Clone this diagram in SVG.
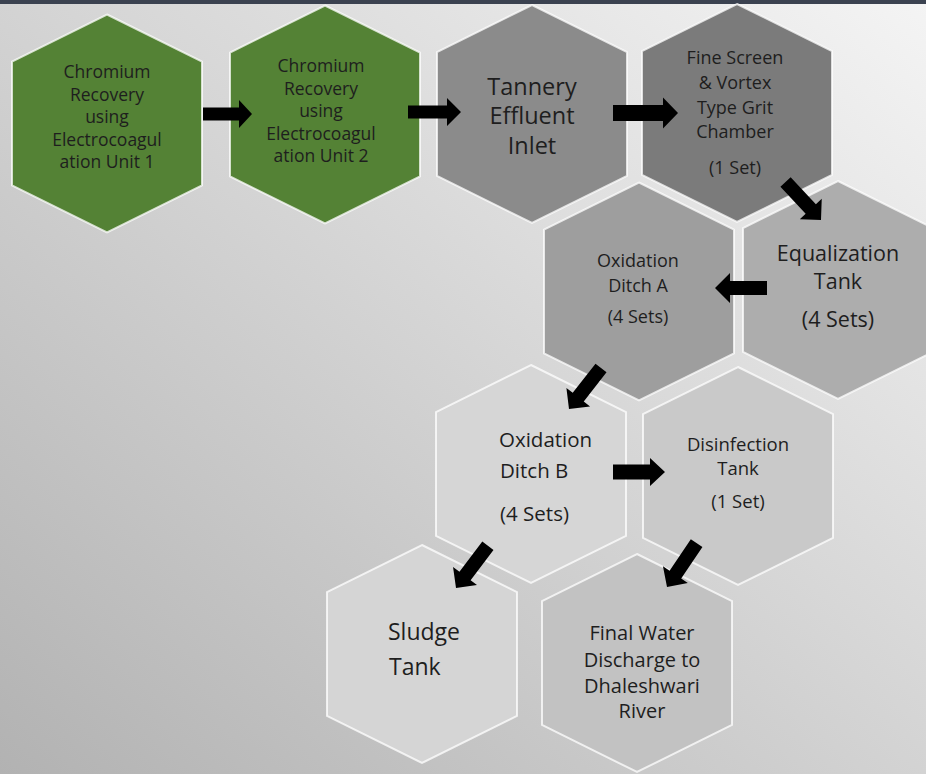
<svg xmlns="http://www.w3.org/2000/svg" xmlns:xlink="http://www.w3.org/1999/xlink" width="926" height="774" viewBox="0 0 926 774">
<style>
.hex{stroke:#ffffff;stroke-opacity:0.75;stroke-width:2}
.t{font-family:"Open Sans","Liberation Sans",sans-serif;fill:#1e1e1e;text-anchor:middle}
.tl{text-anchor:start}
.arrow{fill:#000000}
</style>
<defs>
<linearGradient id="bg" x1="1" y1="0" x2="0" y2="1">
<stop offset="0" stop-color="#f4f4f4"/>
<stop offset="1" stop-color="#b2b2b2"/>
</linearGradient>
<polygon id="hx" points="0,-109 95,-62 95,62 0,109 -95,62 -95,-62"/>
</defs>
<rect x="0" y="0" width="926" height="774" fill="url(#bg)"/>
<rect x="0" y="0" width="926" height="4" fill="#3b4250"/>

<g id="unit1">
<use href="#hx" x="107" y="123.5" class="hex" fill="#548235"/>
<text class="t" font-size="17.5" x="107" y="78">Chromium</text>
<text class="t" font-size="17.5" x="107" y="100.5">Recovery</text>
<text class="t" font-size="17.5" x="107" y="123">using</text>
<text class="t" font-size="17.5" x="107" y="145.5">Electrocoagul</text>
<text class="t" font-size="17.5" x="107" y="168">ation Unit 1</text>
</g>
<g id="unit2">
<use href="#hx" x="325" y="114.5" class="hex" fill="#548235"/>
<text class="t" font-size="17.5" x="321" y="72">Chromium</text>
<text class="t" font-size="17.5" x="321" y="94.5">Recovery</text>
<text class="t" font-size="17.5" x="321" y="117">using</text>
<text class="t" font-size="17.5" x="321" y="139.5">Electrocoagul</text>
<text class="t" font-size="17.5" x="321" y="162">ation Unit 2</text>
</g>
<g id="inlet">
<use href="#hx" x="532" y="114" class="hex" fill="#8b8b8b"/>
<text class="t" font-size="23.5" x="532" y="95">Tannery</text>
<text class="t" font-size="23.5" x="532" y="124">Effluent</text>
<text class="t" font-size="23.5" x="532" y="154">Inlet</text>
</g>
<g id="screen">
<use href="#hx" x="737" y="113" class="hex" fill="#7b7b7b"/>
<text class="t" font-size="18" x="735" y="64">Fine Screen</text>
<text class="t" font-size="18" x="735" y="89">&amp; Vortex</text>
<text class="t" font-size="18" x="735" y="114">Type Grit</text>
<text class="t" font-size="18" x="735" y="138">Chamber</text>
<text class="t" font-size="18" x="735" y="174">(1 Set)</text>
</g>
<g id="equalization">
<use href="#hx" x="838" y="290" class="hex" fill="#adadad"/>
<text class="t" font-size="21.5" x="838" y="261">Equalization</text>
<text class="t" font-size="21.5" x="838" y="289">Tank</text>
<text class="t" font-size="21.5" x="838" y="327">(4 Sets)</text>
</g>
<g id="ditchA">
<use href="#hx" x="639" y="291.5" class="hex" fill="#9e9e9e"/>
<text class="t" font-size="18" x="638" y="267">Oxidation</text>
<text class="t" font-size="18" x="638" y="292">Ditch A</text>
<text class="t" font-size="18" x="638" y="323">(4 Sets)</text>
</g>
<g id="ditchB">
<use href="#hx" x="531" y="474" class="hex" fill="#d6d6d6"/>
<text class="t tl" font-size="20.5" x="499" y="447">Oxidation</text>
<text class="t tl" font-size="20.5" x="500" y="478">Ditch B</text>
<text class="t tl" font-size="20.5" x="500" y="521">(4 Sets)</text>
</g>
<g id="disinfection">
<use href="#hx" x="738" y="476" class="hex" fill="#c9c9c9"/>
<text class="t" font-size="18.5" x="738" y="451">Disinfection</text>
<text class="t" font-size="18.5" x="738" y="475">Tank</text>
<text class="t" font-size="18.5" x="738" y="508">(1 Set)</text>
</g>
<g id="sludge">
<use href="#hx" x="422" y="654" class="hex" fill="#d5d5d5"/>
<text class="t tl" font-size="23" x="388" y="640">Sludge</text>
<text class="t tl" font-size="23" x="389" y="675">Tank</text>
</g>
<g id="discharge">
<use href="#hx" x="637" y="663" class="hex" fill="#c2c2c2"/>
<text class="t" font-size="20" x="642" y="640">Final Water</text>
<text class="t" font-size="20" x="642" y="667">Discharge to</text>
<text class="t" font-size="20" x="642" y="693">Dhaleshwari</text>
<text class="t" font-size="20" x="642" y="718">River</text>
</g>

<g id="connectors">
<path class="arrow" transform="translate(252,114)" d="M-49,-6.5 L-13,-6.5 L-13,-14 L0,0 L-13,14 L-13,6.5 L-49,6.5 Z"/>
<path class="arrow" transform="translate(461,112)" d="M-53,-6.5 L-14,-6.5 L-14,-14 L0,0 L-14,14 L-14,6.5 L-53,6.5 Z"/>
<path class="arrow" transform="translate(678,113)" d="M-65,-8 L-15,-8 L-15,-15.5 L0,0 L-15,15.5 L-15,8 L-65,8 Z"/>
<path class="arrow" transform="translate(821,220) rotate(47)" d="M-52,-7 L-15,-7 L-15,-15 L0,0 L-15,15 L-15,7 L-52,7 Z"/>
<path class="arrow" transform="translate(715,288) rotate(180)" d="M-52,-7 L-15,-7 L-15,-15 L0,0 L-15,15 L-15,7 L-52,7 Z"/>
<path class="arrow" transform="translate(569,409) rotate(128)" d="M-52,-7 L-15,-7 L-15,-15 L0,0 L-15,15 L-15,7 L-52,7 Z"/>
<path class="arrow" transform="translate(665,472)" d="M-52,-7.5 L-15,-7.5 L-15,-14 L0,0 L-15,14 L-15,7.5 L-52,7.5 Z"/>
<path class="arrow" transform="translate(456,588) rotate(127)" d="M-53,-7 L-15,-7 L-15,-15 L0,0 L-15,15 L-15,7 L-53,7 Z"/>
<path class="arrow" transform="translate(667,587) rotate(124)" d="M-53,-7 L-15,-7 L-15,-15 L0,0 L-15,15 L-15,7 L-53,7 Z"/>
</g>
</svg>
